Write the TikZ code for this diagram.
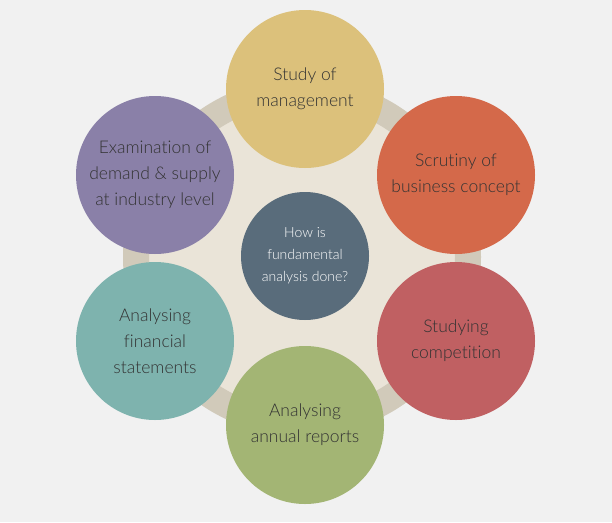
\documentclass[tikz,border=0pt]{standalone}
\usepackage{fontspec}
\setmainfont{Lato Light}[Ligatures={NoCommon}]
\definecolor{bgc}{HTML}{F1F1F1}
\definecolor{ringc}{HTML}{D1CABA}
\definecolor{innerc}{HTML}{EAE4D8}
\definecolor{txt}{HTML}{333333}
\definecolor{cyellow}{HTML}{DCC17B}
\definecolor{corange}{HTML}{D4694A}
\definecolor{cred}{HTML}{C06062}
\definecolor{cgreen}{HTML}{A3B574}
\definecolor{cteal}{HTML}{7EB3AE}
\definecolor{cpurple}{HTML}{8A80A8}
\definecolor{ccenter}{HTML}{596C7B}
\tikzset{
  petal/.style={circle, minimum size=158pt, inner sep=0pt, align=center, text=txt,
    font=\fontsize{17.5}{26}\selectfont},
  hub/.style={circle, minimum size=128pt, inner sep=0pt, align=center, text=white,
    fill=ccenter, font=\fontsize{14}{22}\selectfont}
}
\begin{document}
\begin{tikzpicture}[x=1pt,y=-1pt]
\fill[bgc] (0,0) rectangle (612,522);
\useasboundingbox (0,0) rectangle (612,522);
\draw[ringc, line width=26pt, fill=innerc] (302,257) circle (166);
\node[petal, fill=cyellow] (mgmt) at (305,89) {Study of\\management};
\node[petal, fill=corange] (biz) at (456,175) {Scrutiny of\\business concept};
\node[petal, fill=cred] (comp) at (456,341) {Studying\\competition};
\node[petal, fill=cgreen] (annual) at (305,425) {Analysing\\annual reports};
\node[petal, fill=cteal] (fin) at (155,341) {Analysing\\financial\\statements};
\node[petal, fill=cpurple] (demand) at (155,175) {Examination of\\demand \& supply\\at industry level};
\node[hub] (hub) at (305,256) {How is\\fundamental\\analysis done?};
\end{tikzpicture}
\end{document}
